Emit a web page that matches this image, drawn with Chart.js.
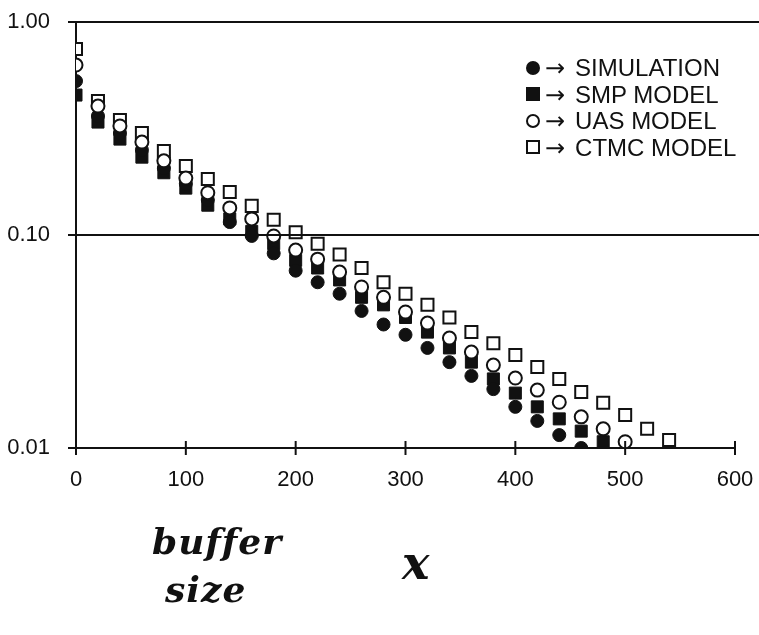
<!DOCTYPE html>
<html>
<head>
<meta charset="utf-8">
<title>Buffer overflow probability</title>
<script src="https://cdn.jsdelivr.net/npm/chart.js@4/dist/chart.umd.min.js"></script>
<style>
  body { margin: 0; background: #fff; }
  #wrap { position: relative; width: 759px; height: 635px; }
  #legend {
    position: absolute; left: 526px; top: 55px;
    font-family: "Liberation Sans", Arial, sans-serif; font-size: 24px; color: #111;
  }
  #legend div { height: 26.5px; line-height: 26.5px; white-space: nowrap; }
  .mk { display: inline-block; width: 14px; height: 14px; box-sizing: border-box;
        vertical-align: middle; margin-right: 5px; position: relative; top: -2px; }
  .arr { font-family: "DejaVu Sans", sans-serif; font-size: 24px; margin-right: 10px; }
  .dot { border-radius: 50%; background: #111; }
  .sq { background: #111; }
  .odot { border-radius: 50%; border: 2px solid #111; background: #fff; }
  .osq { border: 2px solid #111; background: #fff; }
  .hand { position: absolute; font-family: "DejaVu Serif", serif; font-style: italic;
          font-weight: bold; color: #111; }
</style>
</head>
<body>
<div id="wrap">
  <canvas id="chart"></canvas>
  <div id="legend">
    <div><span class="mk dot"></span><span class="arr">→</span>SIMULATION</div>
    <div><span class="mk sq"></span><span class="arr">→</span>SMP MODEL</div>
    <div><span class="mk odot"></span><span class="arr">→</span>UAS MODEL</div>
    <div><span class="mk osq"></span><span class="arr">→</span>CTMC MODEL</div>
  </div>
  <div class="hand" style="left:152px; top:520px; font-size:36px; letter-spacing:1px;">buffer</div>
  <div class="hand" style="left:165px; top:568px; font-size:36px; letter-spacing:1px;">size</div>
  <div class="hand" style="left:402px; top:536px; font-size:46px;">x</div>
</div>
<script>
// buffer sizes (x), shared by all series
const bufferSizes = [0, 20, 40, 60, 80, 100, 120, 140, 160, 180, 200, 220, 240, 260,
                     280, 300, 320, 340, 360, 380, 400, 420, 440, 460, 480, 500, 520, 540];

// probability values
const simulation = [0.528, 0.362, 0.301, 0.251, 0.206, 0.174, 0.146, 0.115, 0.099, 0.082,
                    0.068, 0.060, 0.053, 0.044, 0.038, 0.034, 0.0295, 0.0253, 0.0218, 0.0189,
                    0.0156, 0.0134, 0.0115, 0.0100];
const smpModel = [0.454, 0.339, 0.282, 0.232, 0.196, 0.166, 0.138, 0.119, 0.104, 0.091,
                  0.076, 0.070, 0.0615, 0.051, 0.047, 0.041, 0.035, 0.0295, 0.0253, 0.0211,
                  0.0181, 0.0156, 0.0137, 0.0120, 0.0107];
const uasModel = [0.628, 0.403, 0.325, 0.273, 0.223, 0.185, 0.158, 0.134, 0.119, 0.099,
                  0.085, 0.077, 0.067, 0.057, 0.051, 0.0435, 0.0386, 0.0328, 0.0282, 0.0245,
                  0.0213, 0.0187, 0.0164, 0.0140, 0.0123, 0.0107];
const ctmcModel = [0.747, 0.426, 0.347, 0.301, 0.248, 0.211, 0.183, 0.159, 0.137, 0.118,
                   0.103, 0.091, 0.081, 0.070, 0.060, 0.053, 0.047, 0.041, 0.035, 0.031,
                   0.0273, 0.0240, 0.0211, 0.0183, 0.0163, 0.0143, 0.0123, 0.0109];

const yTicks = [0.01, 0.1, 1];
const xTicks = [0, 100, 200, 300, 400, 500, 600];

const pts = arr => arr.map((v, i) => ({ x: bufferSizes[i], y: v }));
const ink = '#111';
const tickFont = { family: '"Liberation Sans", Arial, sans-serif', size: 22 };

// axis rules: long horizontals at 1.00 and 0.10, crossing ticks on x
const rules = {
  id: 'rules',
  afterDraw(chart) {
    const { ctx, chartArea, scales } = chart;
    ctx.save();
    ctx.strokeStyle = ink;
    ctx.lineWidth = 2;
    yTicks.forEach(v => {
      const y = scales.y.getPixelForValue(v);
      ctx.beginPath();
      ctx.moveTo(chartArea.left - 8, y);
      ctx.lineTo(v === yTicks[0] ? chartArea.left : chart.width, y);
      ctx.stroke();
    });
    xTicks.forEach(v => {
      const x = scales.x.getPixelForValue(v);
      ctx.beginPath();
      ctx.moveTo(x, chartArea.bottom - 7);
      ctx.lineTo(x, chartArea.bottom + 7);
      ctx.stroke();
    });
    ctx.restore();
  }
};

new Chart(document.getElementById('chart'), {
  type: 'scatter',
  data: {
    datasets: [
      { label: 'UAS MODEL', data: pts(uasModel), pointStyle: 'circle', pointRadius: 6.5,
        backgroundColor: '#fff', borderColor: ink, borderWidth: 2, order: 0 },
      { label: 'CTMC MODEL', data: pts(ctmcModel), pointStyle: 'rect', pointRadius: 8.5,
        backgroundColor: '#fff', borderColor: ink, borderWidth: 2, order: 1 },
      { label: 'SIMULATION', data: pts(simulation), pointStyle: 'circle', pointRadius: 6.5,
        backgroundColor: ink, borderColor: ink, borderWidth: 1, order: 2 },
      { label: 'SMP MODEL', data: pts(smpModel), pointStyle: 'rect', pointRadius: 8.5,
        backgroundColor: ink, borderColor: ink, borderWidth: 1, order: 3 }
    ]
  },
  options: {
    responsive: true,
    maintainAspectRatio: false,
    animation: false,
    layout: { padding: { top: 22, right: 24, left: 0, bottom: 0 } },
    plugins: { legend: { display: false }, tooltip: { enabled: false } },
    scales: {
      x: {
        type: 'linear', min: 0, max: 600,
        afterBuildTicks: s => { s.ticks = xTicks.map(v => ({ value: v })); },
        afterFit: s => { s.height = 187; s.paddingLeft = 0; s.paddingRight = 0; },
        grid: { display: false },
        border: { color: ink, width: 2 },
        ticks: { color: ink, padding: 11, maxRotation: 0, font: tickFont }
      },
      y: {
        type: 'logarithmic', min: 0.01, max: 1,
        afterBuildTicks: s => { s.ticks = yTicks.map(v => ({ value: v })); },
        afterFit: s => { s.width = 76; s.paddingTop = 0; s.paddingBottom = 0; },
        grid: { display: false },
        border: { color: ink, width: 2 },
        ticks: { color: ink, padding: 18, callback: v => Number(v).toFixed(2), font: tickFont }
      }
    }
  },
  plugins: [rules]
});
</script>
</body>
</html>
